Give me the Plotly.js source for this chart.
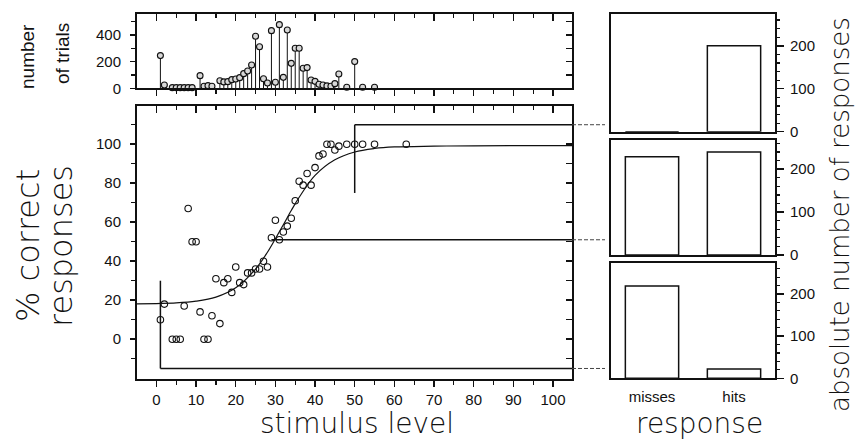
<!DOCTYPE html>
<html><head><meta charset="utf-8">
<script src="https://cdn.plot.ly/plotly-3.0.1.min.js"></script>
<style>html,body{margin:0;padding:0;background:#fff}#chart{width:860px;height:442px}</style>
</head><body><div id="chart"></div>
<script>
// ---------- data ----------
const trialLevels = [1,2,4,5,6,7,8,9,11,12,13,14,16,17,18,19,20,21,22,23,24,25,26,27,28,29,30,31,32,33,34,35,36,37,38,39,40,41,42,43,44,45,46,48,50,52,55];
const trialCounts = [245,25,5,5,5,5,5,5,95,15,20,15,57,48,50,65,70,80,110,130,175,390,312,72,40,432,45,477,82,437,187,300,300,150,155,62,52,30,25,18,15,35,107,8,200,8,8];

const pctLevels = [1,2,4,5,6,7,8,9,10,11,12,13,14,15,16,17,18,19,20,21,22,23,24,25,26,27,28,29,30,31,32,33,34,35,36,37,38,39,40,41,42,43,44,45,46,48,50,52,55,63];
const pctCorrect = [10,18,0,0,0,17,67,50,50,14,0,0,12,31,8,29,31,24,37,29,28,34,34,36,36,40,37,52,61,51,55,58,62,71,81,79,85,79,88,94,95,100,100,97,99,100,100,100,100,100];

const fitLevels = [-5,0,5,10,15,20,25,28,30,32,34,36,40,45,50,55,60,70,80,105];
const fitPct    = [18.1,18.3,18.6,19.5,21.6,26.4,36,44.6,51.5,58.7,66,72.8,84,92,96,97.8,98.6,99,99.2,99.3];

// link lines from the psychometric plot to the response panels
const linkLevel = [1, 29, 50];      // stimulus level where each link starts
const linkFrom  = [30, 51, 75];     // % value where the vertical stroke starts
const linkPct   = [-15, 51, 110];   // % value of the horizontal stroke

const responseCats = ['misses','hits'];
const respHigh = [0, 200];
const respMid  = [229, 240];
const respLow  = [219, 22];

// ---------- layout geometry ----------
const W = 860, H = 442;
const px = v => v / W, py = v => 1 - v / H;
const xDom = [px(137), px(572)];
const topDom = [py(88.3), py(14)];
const mainDom = [py(379), py(106)];
const rDom = [px(611), px(775)];
const r1Dom = [py(131.7), py(14)];
const r2Dom = [py(255), py(140)];
const r3Dom = [py(378.3), py(263.3)];
const xRange = [-4.9, 104.8];
const mainRange = [-20.4, 119.6];
const topRange = [0, 557];

const tickFont = {family: 'Liberation Sans, Arial, sans-serif', size: 15, color: '#111'};
const titleFam = 'DejaVu Sans ExtraLight, DejaVu Sans Light, DejaVu Sans, sans-serif';

// stems
const stemX = [], stemY = [];
trialLevels.forEach((l, i) => { stemX.push(l, l, null); stemY.push(0, trialCounts[i], null); });

const traces = [
  {x: stemX, y: stemY, xaxis: 'x2', yaxis: 'y2', mode: 'lines', line: {color: '#111', width: 1}, hoverinfo: 'skip', showlegend: false},
  {x: trialLevels, y: trialCounts, xaxis: 'x2', yaxis: 'y2', mode: 'markers', cliponaxis: false,
   marker: {symbol: 'circle', size: 6, color: '#d8d8d8', line: {color: '#111', width: 1.1}}, showlegend: false},
  {x: fitLevels, y: fitPct, xaxis: 'x', yaxis: 'y', mode: 'lines', line: {color: '#111', width: 1.2, shape: 'spline'}, showlegend: false},
  {x: pctLevels, y: pctCorrect, xaxis: 'x', yaxis: 'y', mode: 'markers',
   marker: {symbol: 'circle-open', size: 6.5, color: '#111', line: {width: 1.1}}, showlegend: false},
  // overlay dummies for inside ticks on top/right
  {x: [null], y: [null], xaxis: 'x3', yaxis: 'y3', showlegend: false, hoverinfo: 'skip'},
  {x: [null], y: [null], xaxis: 'x4', yaxis: 'y4', showlegend: false, hoverinfo: 'skip'},
];
const barStyle = {color: '#fff', line: {color: '#111', width: 1.5}};
[[respHigh, 'x5', 'y5'], [respMid, 'x6', 'y6'], [respLow, 'x7', 'y7']].forEach(([vals, xa, ya]) => {
  traces.push({type: 'bar', x: responseCats, y: vals, xaxis: xa, yaxis: ya, width: 0.65, marker: barStyle, showlegend: false});
});

const base = {showgrid: false, zeroline: false, showline: true, linecolor: '#111', linewidth: 2, tickcolor: '#111', tickfont: tickFont, fixedrange: true};
const tens = [0,10,20,30,40,50,60,70,80,90,100];

const layout = {
  width: W, height: H, margin: {l: 0, r: 0, t: 0, b: 0}, paper_bgcolor: '#fff', plot_bgcolor: '#fff',
  showlegend: false, bargap: 0,
  // main psychometric plot
  xaxis: Object.assign({}, base, {domain: xDom, anchor: 'y', range: xRange, tickmode: 'array', tickvals: tens,
    ticks: 'outside', ticklen: 6, tickwidth: 1.5, ticklabelstandoff: 0,
    minor: {tickmode: 'linear', tick0: 0, dtick: 5, ticks: 'outside', ticklen: 4, tickwidth: 1.2, tickcolor: '#111'}}),
  yaxis: Object.assign({}, base, {domain: mainDom, anchor: 'x', range: mainRange, tickmode: 'array', tickvals: [0,20,40,60,80,100],
    ticks: 'outside', ticklen: 5, tickwidth: 1.5, ticklabelstandoff: 6,
    minor: {tickmode: 'array', tickvals: [-10,10,30,50,70,90,110], ticks: 'outside', ticklen: 4, tickwidth: 1.2, tickcolor: '#111'}}),
  xaxis3: Object.assign({}, base, {overlaying: 'x', anchor: 'y', side: 'top', range: xRange, tickmode: 'array', tickvals: tens,
    ticks: 'inside', ticklen: 7, tickwidth: 1.5, showticklabels: false,
    minor: {tickmode: 'linear', tick0: 0, dtick: 5, ticks: 'inside', ticklen: 4, tickwidth: 1.2, tickcolor: '#111'}}),
  yaxis3: Object.assign({}, base, {overlaying: 'y', anchor: 'x', side: 'right', range: mainRange, tickmode: 'linear', tick0: 0, dtick: 10,
    ticks: 'inside', ticklen: 6, tickwidth: 1.5, showticklabels: false}),
  // number of trials plot
  xaxis2: Object.assign({}, base, {domain: xDom, anchor: 'y2', range: xRange, tickmode: 'array', tickvals: tens,
    ticks: 'outside', ticklen: 6, tickwidth: 1.5, showticklabels: false,
    minor: {tickmode: 'linear', tick0: 0, dtick: 5, ticks: 'outside', ticklen: 4, tickwidth: 1.2, tickcolor: '#111'}}),
  yaxis2: Object.assign({}, base, {domain: topDom, anchor: 'x2', range: topRange, tickmode: 'array', tickvals: [0,200,400],
    ticks: 'outside', ticklen: 5, tickwidth: 1.5, ticklabelstandoff: 6,
    minor: {tickmode: 'array', tickvals: [100,300,500], ticks: 'outside', ticklen: 4, tickwidth: 1.2, tickcolor: '#111'}}),
  xaxis4: Object.assign({}, base, {overlaying: 'x2', anchor: 'y2', side: 'top', range: xRange, tickmode: 'array', tickvals: tens,
    ticks: 'inside', ticklen: 7, tickwidth: 1.5, showticklabels: false,
    minor: {tickmode: 'linear', tick0: 0, dtick: 5, ticks: 'inside', ticklen: 4, tickwidth: 1.2, tickcolor: '#111'}}),
  yaxis4: Object.assign({}, base, {overlaying: 'y2', anchor: 'x2', side: 'right', range: topRange, tickmode: 'linear', tick0: 0, dtick: 100,
    ticks: 'inside', ticklen: 6, tickwidth: 1.5, showticklabels: false}),
  shapes: [], annotations: []
};

// response panels
const rPanels = [['5', r1Dom, [0, 274]], ['6', r2Dom, [0, 268]], ['7', r3Dom, [0, 273]]];
rPanels.forEach(([n, dom, rng]) => {
  layout['xaxis' + n] = Object.assign({}, base, {domain: rDom, anchor: 'y' + n, type: 'category', range: [-0.5, 1.5], mirror: true,
    ticks: '', showticklabels: n === '7', tickfont: {family: 'Liberation Sans, Arial, sans-serif', size: 15, color: '#111'}, ticklabelstandoff: 4});
  layout['yaxis' + n] = Object.assign({}, base, {domain: dom, anchor: 'x' + n, side: 'right', range: rng, mirror: true,
    tickmode: 'array', tickvals: [0, 100, 200], ticks: 'outside', ticklen: 7, tickwidth: 1.5, ticklabelstandoff: 3,
    minor: {tickmode: 'linear', tick0: 0, dtick: 20, ticks: 'outside', ticklen: 3, tickwidth: 1.2, tickcolor: '#111'}});
});

// link lines
const toPaperY = v => mainDom[0] + (v - mainRange[0]) / (mainRange[1] - mainRange[0]) * (mainDom[1] - mainDom[0]);
linkLevel.forEach((lv, i) => {
  layout.shapes.push({type: 'line', xref: 'x', yref: 'y', x0: lv, x1: lv, y0: linkFrom[i], y1: linkPct[i], line: {color: '#111', width: 1.5}});
  layout.shapes.push({type: 'line', xref: 'x', yref: 'y', x0: lv, x1: xRange[1], y0: linkPct[i], y1: linkPct[i], line: {color: '#111', width: 1.5}});
  layout.shapes.push({type: 'line', xref: 'paper', yref: 'paper', x0: xDom[1], x1: px(605), y0: toPaperY(linkPct[i]), y1: toPaperY(linkPct[i]),
    line: {color: '#444', width: 1, dash: '4px,2px'}});
});

const ann = (text, x, y, size, angle, fam, yanchor) => ({text, x: px(x), y: py(y), xref: 'paper', yref: 'paper', showarrow: false,
  xanchor: 'center', yanchor: yanchor || 'middle', textangle: angle || 0, borderpad: 0, font: {family: fam || titleFam, size, color: '#111'}});
const plainFam = 'Liberation Sans, Arial, sans-serif';
layout.annotations.push(
  ann('number', 28, 57, 19, -90, plainFam),
  ann('of trials', 62, 54, 19, -90, plainFam),
  ann('% correct', 28, 246, 32, -90),
  ann('responses', 61, 246, 32, -90),
  ann('stimulus level', 357, 441, 28, 0, null, 'bottom'),
  ann('response', 699, 441, 28, 0, null, 'bottom'),
  ann('absolute number of responses', 840, 215, 26, -90)
);

Plotly.newPlot('chart', traces, layout, {staticPlot: true, displayModeBar: false});
</script></body></html>
